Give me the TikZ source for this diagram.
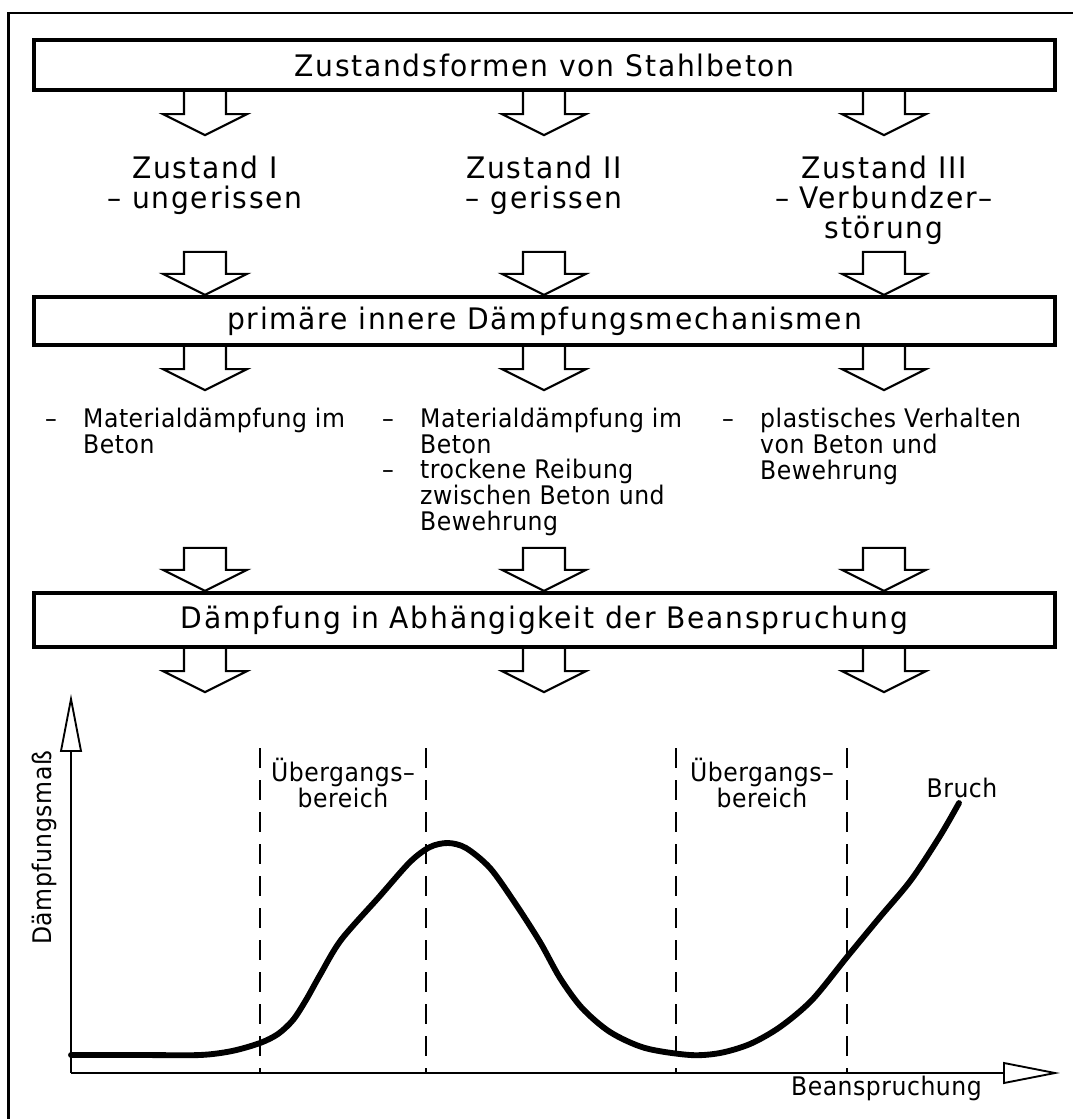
\documentclass[tikz,border=0pt]{standalone}
\usepackage{fontspec}
\newfontfamily\cadbig[LetterSpace=6, FakeStretch=0.95]{DejaVu Sans}
\newfontfamily\cadsmall[LetterSpace=2, FakeStretch=0.92]{DejaVu Sans}
\newcommand{\bigfont}{\cadbig\fontsize{25.3}{26}\selectfont}
\newcommand{\smallfont}{\cadsmall\fontsize{21.85}{21.8}\selectfont}
\newcommand{\dashitem}{\makebox[11.4mm][l]{–}}
\newcommand{\noitem}{\hspace*{11.4mm}}

\tikzset{
  box/.style={draw, line width=3.6pt, minimum width=306.3mm, minimum height=15mm, inner sep=0pt, font=\bigfont},
  state/.style={font=\bigfont, align=center, anchor=base, inner sep=0pt},
  list/.style={font=\smallfont, align=left, anchor=base west, inner sep=0pt},
  plottext/.style={font=\smallfont, anchor=base, inner sep=0pt},
  arrowline/.style={line width=1.8pt, line join=miter},
  axisline/.style={line width=1.6pt},
  dashline/.style={line width=1.2pt, dash pattern=on 6mm off 3.6mm},
  curveline/.style={line width=5pt, line cap=round, line join=round},
  pics/openarrow/.style={code={
    \draw[arrowline] (-21,0) -- (-21,22) -- (-42,22) -- (0,43) -- (42,22) -- (21,22) -- (21,0);}},
  pics/closedarrow/.style={code={
    \draw[arrowline] (0,0) -- (-42,-21) -- (-21,-21) -- (-21,-43) -- (21,-43) -- (21,-21) -- (42,-21) -- cycle;}},
}

\begin{document}
\begin{tikzpicture}[x=0.3mm, y=-0.3mm]
\useasboundingbox (0,0) rectangle (1073,1119);
% frame
\draw[line width=2.5pt] (8.5,1119) -- (8.5,13) -- (1073,13);
% columns
\coordinate (c1) at (205,0);
\coordinate (c2) at (544,0);
\coordinate (c3) at (884,0);

% flow (base = last line)
\node[box] (forms) at (544.5,65) {Zustandsformen von Stahlbeton};
\node[state] (z1) at (205,208.5) {Zustand I\\– ungerissen};
\node[state] (z2) at (544,208.5) {Zustand II\\– gerissen};
\node[state] (z3) at (884,239) {Zustand III\\– Verbundzer–\\störung};
\node[box, minimum height=14.4mm] (mech) at (544.5,321) {primäre innere Dämpfungsmechanismen};
\node[list] (m1) at (45,453.5) {\dashitem Materialdämpfung im\\\noitem Beton};
\node[list] (m2) at (382,530) {\dashitem Materialdämpfung im\\\noitem Beton\\\dashitem trockene Reibung\\\noitem zwischen Beton und\\\noitem Bewehrung};
\node[list] (m3) at (722,479) {\dashitem plastisches Verhalten\\\noitem von Beton und\\\noitem Bewehrung};
\node[box, minimum height=16.2mm] (load) at (544.5,620) {Dämpfung in Abhängigkeit der Beanspruchung};

\foreach \c in {c1,c2,c3} {
  \pic at (forms.south -| \c) {openarrow};
  \pic at (mech.north -| \c) {closedarrow};
  \pic at (mech.south -| \c) {openarrow};
  \pic at (load.north -| \c) {closedarrow};
  \pic at (load.south -| \c) {openarrow};
}

% diagram
\coordinate (origin) at (71,1073);
\coordinate (ytip) at (71,699);
\coordinate (xtip) at (1055,1073);
\draw[axisline] (origin) -- (71,751);
\draw[axisline] (61,751) -- (ytip) -- (81,751) -- cycle;
\draw[axisline] (origin) -- (1004,1073);
\draw[axisline] (1004,1063) -- (xtip) -- (1004,1083) -- cycle;
\foreach \x in {260,426,676,847}
  \draw[dashline] (\x,748) -- (\x,1073);
\draw[curveline] plot[smooth, tension=0.5] coordinates {
  (71,1055) (140,1055) (200,1055) (232,1051) (260,1043) (278,1034) (293,1020)
  (306,1000) (320,975) (341,940) (379,897) (410,862) (430,847) (448,843)
  (466,848) (490,868) (515,903) (540,942) (560,978) (582,1008) (610,1032)
  (645,1048) (690,1055) (720,1053) (750,1044) (780,1027) (812,1000) (847,957)
  (880,917) (911,880) (940,836) (959,803)};

\node[plottext, align=center] (trans1) at (343,807) {Übergangs–\\bereich};
\node[plottext, align=center] (trans2) at (762,807) {Übergangs–\\bereich};
\node[plottext] (fracture) at (962,797) {Bruch};
\node[plottext, anchor=base east] (xlabel) at (982,1095) {Beanspruchung};
\node[plottext, rotate=90] (ylabel) at (51,848) {Dämpfungsmaß};
\end{tikzpicture}
\end{document}
